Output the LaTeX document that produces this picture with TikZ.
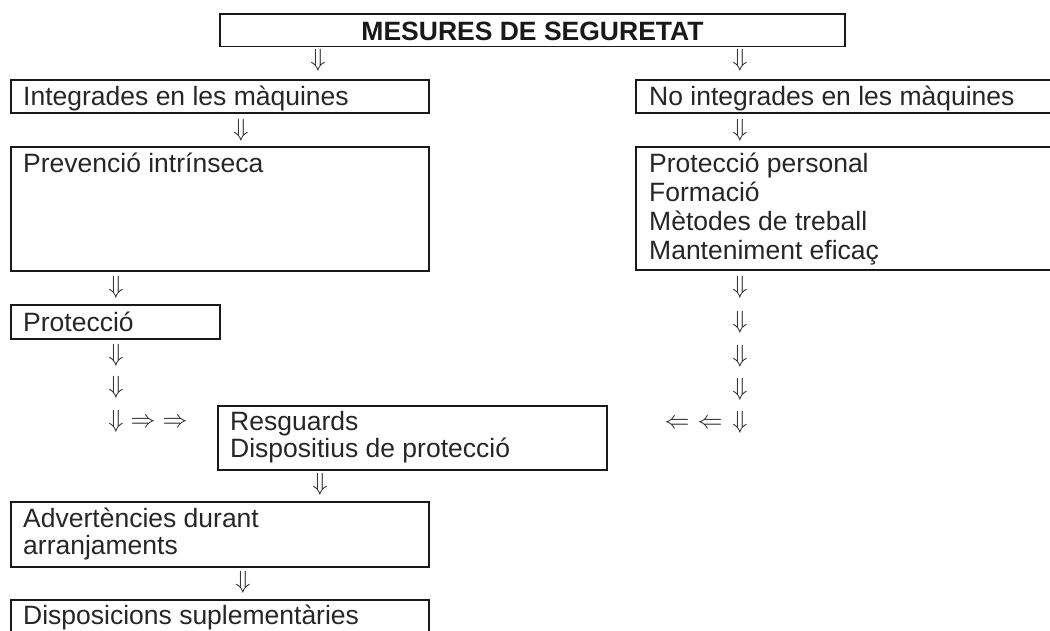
\documentclass[tikz,border=0pt]{standalone}
\usepackage{fontspec}
\setmainfont{Liberation Sans}
\begin{document}
\begin{tikzpicture}[x=1pt,y=-1pt,
  box/.style={draw=black!90, line width=1.2pt, rectangle, anchor=north west, inner sep=0pt, outer sep=0pt},
  txt/.style={anchor=north west, inner sep=0pt, align=left, text=black!85,
    font=\fontsize{26.5}{28}\selectfont},
  ttl/.style={anchor=center, inner sep=0pt, text=black!90,
    font=\fontsize{26.5}{28}\selectfont\bfseries},
  arr/.style={inner sep=0pt, text=black!85, font=\fontsize{24.88}{25}\selectfont}]
\useasboundingbox (0,0) rectangle (1050,630);
\clip (0,0) rectangle (1050,630);

% boxes
\node[box, minimum width=625pt, minimum height=32.5pt] (title) at (220,14) {};
\node[box, minimum width=418pt, minimum height=33pt] (integ) at (11,80) {};
\node[box, minimum width=430pt, minimum height=33pt] (nointeg) at (636,80) {};
\node[box, minimum width=418pt, minimum height=124pt] (prev) at (11,147) {};
\node[box, minimum width=430pt, minimum height=123pt] (pers) at (636,147) {};
\node[box, minimum width=209pt, minimum height=34pt] (prot) at (11,305) {};
\node[box, minimum width=389pt, minimum height=64pt] (resg) at (218,406) {};
\node[box, minimum width=418pt, minimum height=65pt] (adv) at (11,502) {};
\node[box, minimum width=418pt, minimum height=60pt] (disp) at (11,600) {};

% texts
\node[ttl] (ttitle) at (532.5,31.5) {MESURES DE SEGURETAT};
\node[txt] (tinteg) at ([shift={(12,5)}]integ.north west) {\rule{0pt}{20pt}Integrades en les màquines};
\node[txt] (tnointeg) at ([shift={(13,5)}]nointeg.north west) {\rule{0pt}{20pt}No integrades en les màquines};
\node[txt] (tprev) at ([shift={(12,5)}]prev.north west) {\rule{0pt}{20pt}Prevenció intrínseca};
\node[txt, font=\fontsize{26.5}{29}\selectfont] (tpers) at ([shift={(13,5)}]pers.north west) {\rule{0pt}{20pt}Protecció personal\\Formació\\Mètodes de treball\\Manteniment eficaç};
\node[txt] (tprot) at ([shift={(12,6)}]prot.north west) {\rule{0pt}{20pt}Protecció};
\node[txt, font=\fontsize{26.5}{27}\selectfont] (tresg) at ([shift={(12,4)}]resg.north west) {\rule{0pt}{20pt}Resguards\\Dispositius de protecció};
\node[txt, font=\fontsize{26.5}{27}\selectfont] (tadv) at ([shift={(12,5)}]adv.north west) {\rule{0pt}{20pt}Advertències durant\\arranjaments};
\node[txt] (tdisp) at ([shift={(12,4)}]disp.north west) {\rule{0pt}{20pt}Disposicions suplementàries};

% arrows (glyphs)
\node[arr] (a1) at (318,60) {$\Downarrow$};
\node[arr] (a2) at (740,60) {$\Downarrow$};
\node[arr] (a3) at (241,130) {$\Downarrow$};
\node[arr] (a4) at (740,130) {$\Downarrow$};
\node[arr] (a5) at (116,287) {$\Downarrow$};
\node[arr] (a6) at (116,355) {$\Downarrow$};
\node[arr] (a7) at (116,387) {$\Downarrow$};
\node[arr] (a8) at (116,421) {$\Downarrow$};
\node[arr] (a9) at (143,423) {$\Rightarrow$};
\node[arr] (a10) at (175,423) {$\Rightarrow$};
\node[arr] (b1) at (740,287) {$\Downarrow$};
\node[arr] (b2) at (740,322) {$\Downarrow$};
\node[arr] (b3) at (740,356) {$\Downarrow$};
\node[arr] (b4) at (740,389) {$\Downarrow$};
\node[arr] (b5) at (740,422) {$\Downarrow$};
\node[arr] (b6) at (677,424) {$\Leftarrow$};
\node[arr] (b7) at (710,424) {$\Leftarrow$};
\node[arr] (c1) at (320,484) {$\Downarrow$};
\node[arr] (c2) at (243,582) {$\Downarrow$};
\end{tikzpicture}
\end{document}
